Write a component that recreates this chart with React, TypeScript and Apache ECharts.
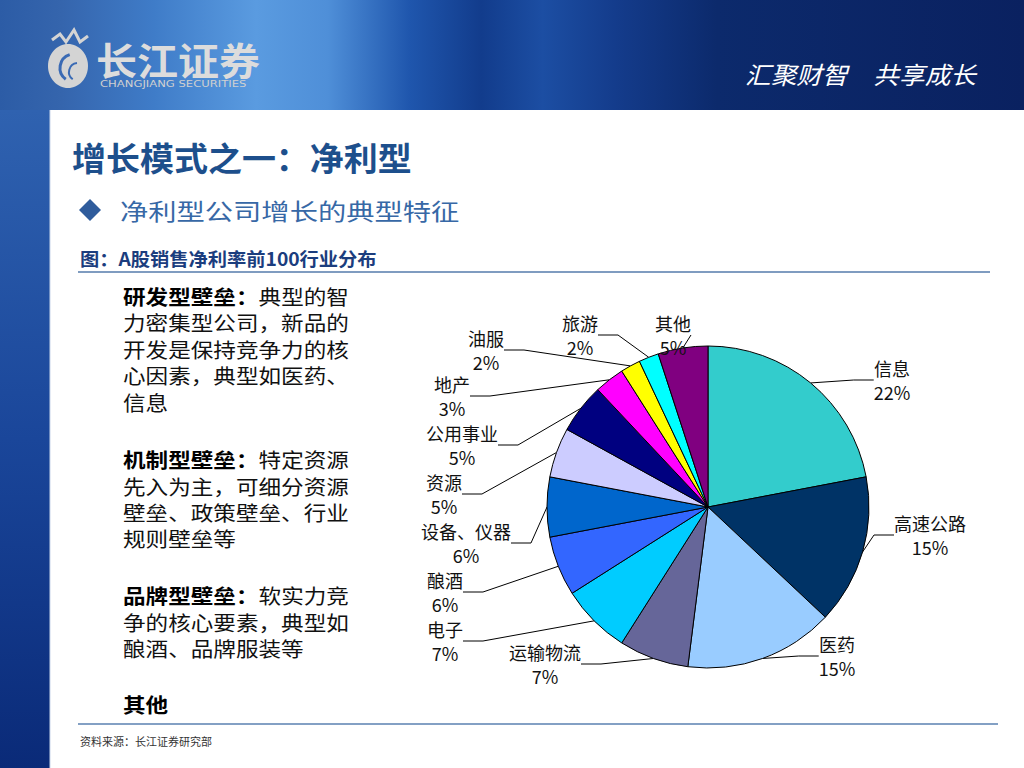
import React, { useEffect, useRef } from "react";
import * as echarts from "echarts";

const categories = ["信息", "高速公路", "医药", "运输物流", "电子", "酿酒", "设备、仪器", "资源", "公用事业", "地产", "油服", "旅游", "其他"];
const shares = [22, 15, 15, 7, 7, 6, 6, 5, 5, 3, 2, 2, 5];
const sliceColors = ["#33CCCC", "#003366", "#99CCFF", "#666699", "#00CCFF", "#3366FF", "#0066CC", "#CCCCFF", "#000080", "#FF00FF", "#FFFF00", "#00FFFF", "#800080"];
// label block centres (page px) — layout only
const labelAnchors: number[][] = [
  [892, 380], [930, 535], [837, 656], [545, 664], [445, 641], [445, 592], [466, 543],
  [444, 494], [462, 445], [452, 396], [486, 350], [580, 335], [673, 335],
];

const titleText = "增长模式之一：净利型";
const subtitleText = "净利型公司增长的典型特征";
const captionText = "图：A股销售净利率前100行业分布";
const sourceText = "资料来源：长江证券研究部";
const sloganText = "汇聚财智　共享成长";
// [bold prefix, rest, y] per line
const bodyLines: [string, string, number][] = [
  ["研发型壁垒：", "典型的智", 296],
  ["", "力密集型公司，新品的", 322],
  ["", "开发是保持竞争力的核", 349],
  ["", "心因素，典型如医药、", 375],
  ["", "信息", 402],
  ["机制型壁垒：", "特定资源", 459],
  ["", "先入为主，可细分资源", 486],
  ["", "壁垒、政策壁垒、行业", 512],
  ["", "规则壁垒等", 538],
  ["品牌型壁垒：", "软实力竞", 595],
  ["", "争的核心要素，典型如", 622],
  ["", "酿酒、品牌服装等", 648],
  ["其他", "", 704],
];

const FONT = "Noto Sans CJK SC";

export default function App() {
  const ref = useRef<HTMLDivElement>(null);
  useEffect(() => {
    if (!ref.current) return;
    const chart = echarts.init(ref.current, undefined, { renderer: "svg" });

    const bodyGraphics = bodyLines.map(([b, r, y]) => ({
      type: "text",
      x: 123,
      y,
      scaleX: 1.13,
      style: {
        text: (b ? `{b|${b}}` : "") + (r ? `{r|${r}}` : ""),
        verticalAlign: "middle",
        rich: {
          b: { fontSize: 20, fontWeight: "bold", fontFamily: FONT, fill: "#000" },
          r: { fontSize: 20, fontWeight: "normal", fontFamily: FONT, fill: "#111" },
        },
      },
    }));

    chart.setOption({
      animation: false,
      backgroundColor: "#ffffff",
      graphic: [
        {
          type: "rect",
          shape: { x: 0, y: 0, width: 1024, height: 110 },
          style: {
            fill: new echarts.graphic.LinearGradient(0, 0, 1, 0, [
              { offset: 0, color: "#2c5ca6" },
              { offset: 0.06, color: "#3565ad" },
              { offset: 0.15, color: "#3f7cc8" },
              { offset: 0.25, color: "#5a9be0" },
              { offset: 0.32, color: "#4f8fd8" },
              { offset: 0.4, color: "#1f56ad" },
              { offset: 0.47, color: "#123c8c" },
              { offset: 0.53, color: "#1c4ea3" },
              { offset: 0.6, color: "#143c8c" },
              { offset: 0.7, color: "#0c2a6c" },
              { offset: 1, color: "#0a2160" },
            ]),
          },
        },
        {
          type: "rect",
          shape: { x: 0, y: 110, width: 50, height: 658 },
          style: {
            fill: new echarts.graphic.LinearGradient(0, 0, 0, 1, [
              { offset: 0, color: "#2f62b0" },
              { offset: 0.5, color: "#1a469a" },
              { offset: 1, color: "#0a2a78" },
            ]),
          },
        },
        { type: "line", shape: { x1: 50, y1: 110, x2: 50, y2: 768 }, style: { stroke: "#c9d6ea", lineWidth: 1 } },
        // logo emblem
        { type: "ellipse", shape: { cx: 68, cy: 66, rx: 20, ry: 22 }, style: { fill: "#d4d4d4" } },
        { type: "arc", shape: { cx: 74, cy: 68, r: 14, startAngle: 2.2, endAngle: 4.4 }, style: { stroke: "#3a6ab4", lineWidth: 3, fill: "none" } },
        { type: "arc", shape: { cx: 78, cy: 72, r: 9, startAngle: 2.2, endAngle: 4.6 }, style: { stroke: "#3a6ab4", lineWidth: 2, fill: "none" } },
        { type: "polyline", shape: { points: [[52, 40], [60, 34], [66, 42], [74, 30], [80, 42], [88, 36]] }, style: { stroke: "#d4d4d4", lineWidth: 3, fill: "none" } },
        {
          type: "text", x: 96, y: 58, scaleX: 1.08,
          style: { text: "长江证券", fontSize: 38, fontWeight: "bold", fontFamily: FONT, fill: "#dcdcdc", verticalAlign: "middle" },
        },
        {
          type: "text", x: 100, y: 84, scaleX: 1.45,
          style: { text: "CHANGJIANG SECURITIES", fontSize: 8, fontFamily: "DejaVu Sans", fill: "#d0d0d0", verticalAlign: "middle" },
        },
        {
          type: "text", x: 745, y: 73, scaleX: 1.07,
          style: { text: sloganText, fontSize: 24, fontStyle: "italic", fontFamily: FONT, fill: "#ffffff", verticalAlign: "middle" },
        },
        // titles
        {
          type: "text", x: 72, y: 157, scaleX: 1.03,
          style: { text: titleText, fontSize: 33, fontWeight: "bold", fontFamily: FONT, fill: "#1d4f8c", verticalAlign: "middle" },
        },
        {
          type: "polygon",
          shape: { points: [[90, 199], [101, 210], [90, 221], [79, 210]] },
          style: { fill: "#2f5c9c" },
        },
        {
          type: "text", x: 120, y: 210, scaleX: 1.23,
          style: { text: subtitleText, fontSize: 23, fontFamily: FONT, fill: "#3768a6", verticalAlign: "middle" },
        },
        {
          type: "text", x: 80, y: 258, scaleX: 1.07,
          style: { text: captionText, fontSize: 18, fontWeight: "bold", fontFamily: FONT, fill: "#1b3d7e", verticalAlign: "middle" },
        },
        { type: "line", shape: { x1: 78, y1: 272, x2: 990, y2: 272 }, style: { stroke: "#7f9cc0", lineWidth: 2 } },
        ...bodyGraphics,
        { type: "line", shape: { x1: 78, y1: 724, x2: 998, y2: 724 }, style: { stroke: "#5a80b0", lineWidth: 1.5 } },
        {
          type: "text", x: 80, y: 741,
          style: { text: sourceText, fontSize: 11, fontFamily: FONT, fill: "#333", verticalAlign: "middle" },
        },
      ],
      series: [
        {
          type: "pie",
          center: [708, 507],
          radius: 161,
          startAngle: 90,
          clockwise: true,
          avoidLabelOverlap: false,
          silent: true,
          data: categories.map((n, i) => ({ name: n, value: shares[i], itemStyle: { color: sliceColors[i] } })),
          itemStyle: { borderColor: "#000", borderWidth: 1 },
          label: {
            show: true,
            position: "outside",
            formatter: (p: any) => `${p.name}\n${p.value}%`,
            fontSize: 18,
            lineHeight: 24,
            fontFamily: FONT,
            color: "#111",
            align: "center",
          },
          labelLine: { show: true, length: 15, length2: 20, lineStyle: { color: "#000", width: 1 } },
          labelLayout: (params: any) => {
            const p = labelAnchors[params.dataIndex];
            return { x: p[0], y: p[1], align: "center", verticalAlign: "middle" };
          },
        },
      ],
    });
    return () => chart.dispose();
  }, []);
  return <div ref={ref} style={{ position: "fixed", left: 0, top: 0, width: 1024, height: 768 }} />;
}
